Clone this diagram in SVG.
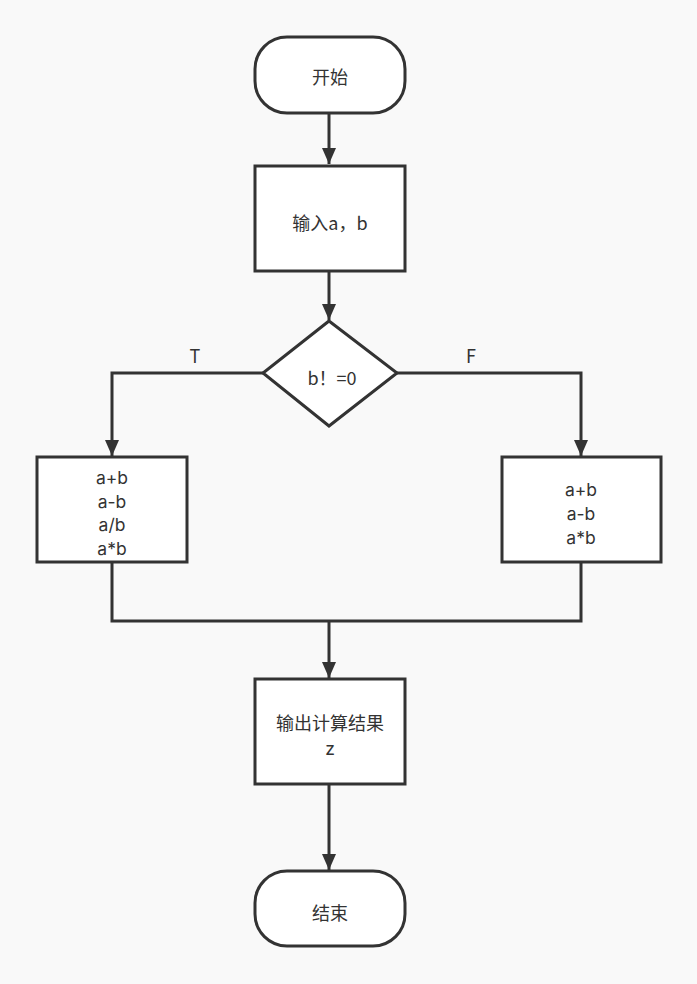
<svg xmlns="http://www.w3.org/2000/svg" width="697" height="984" viewBox="0 0 697 984">
<style>
.s{fill:#ffffff;stroke:#333333;stroke-width:3}
.c{fill:none;stroke:#333333;stroke-width:3}
text{font-family:"Noto Sans CJK SC","Liberation Sans",sans-serif;font-size:18px;fill:#333333;text-anchor:middle;dominant-baseline:central}
text.l{font-family:Inter,"Liberation Sans",sans-serif;font-size:17.5px}
</style>
<defs>
<marker id="ah" markerUnits="userSpaceOnUse" markerWidth="16" markerHeight="16" viewBox="0 0 16 16" refX="16" refY="8" orient="auto">
<path d="M0,1 L16,8 L0,15 Z" fill="#333333"/>
</marker>
</defs>
<rect width="697" height="984" fill="#f9f9f9"/>
<g id="connectors">
<path class="c" d="M329,113 V164" marker-end="url(#ah)"/>
<path class="c" d="M329,271 V320" marker-end="url(#ah)"/>
<path class="c" d="M263,373 H112 V456" marker-end="url(#ah)"/>
<path class="c" d="M397,373 H581 V456" marker-end="url(#ah)"/>
<path class="c" d="M112,562 V621 H581 V562"/>
<path class="c" d="M329,621 V678" marker-end="url(#ah)"/>
<path class="c" d="M329,784 V870" marker-end="url(#ah)"/>
<text x="195" y="355">T</text>
<text x="471" y="355">F</text>
</g>
<g id="start">
<rect class="s" x="255" y="37" width="150" height="76" rx="32" ry="32"/>
<text x="330" y="76">开始</text>
</g>
<g id="input">
<rect class="s" x="255" y="166" width="150" height="105"/>
<text x="330" y="222">输入a，b</text>
</g>
<g id="decision">
<polygon class="s" points="329,321 397,373 329,426 263,373"/>
<text x="332" y="377">b！=0</text>
</g>
<g id="left">
<rect class="s" x="37" y="457" width="150" height="105"/>
<text class="l" x="112" y="477">a+b</text>
<text class="l" x="112" y="501">a-b</text>
<text class="l" x="112" y="524">a/b</text>
<text class="l" x="112" y="548">a*b</text>
</g>
<g id="right">
<rect class="s" x="502" y="457" width="159" height="105"/>
<text class="l" x="581" y="489">a+b</text>
<text class="l" x="581" y="513">a-b</text>
<text class="l" x="581" y="537">a*b</text>
</g>
<g id="output">
<rect class="s" x="255" y="679" width="150" height="105"/>
<text x="330" y="722">输出计算结果</text>
<text class="l" x="330" y="748">z</text>
</g>
<g id="end">
<rect class="s" x="255" y="871" width="150" height="75" rx="32" ry="32"/>
<text x="330" y="912">结束</text>
</g>
</svg>
